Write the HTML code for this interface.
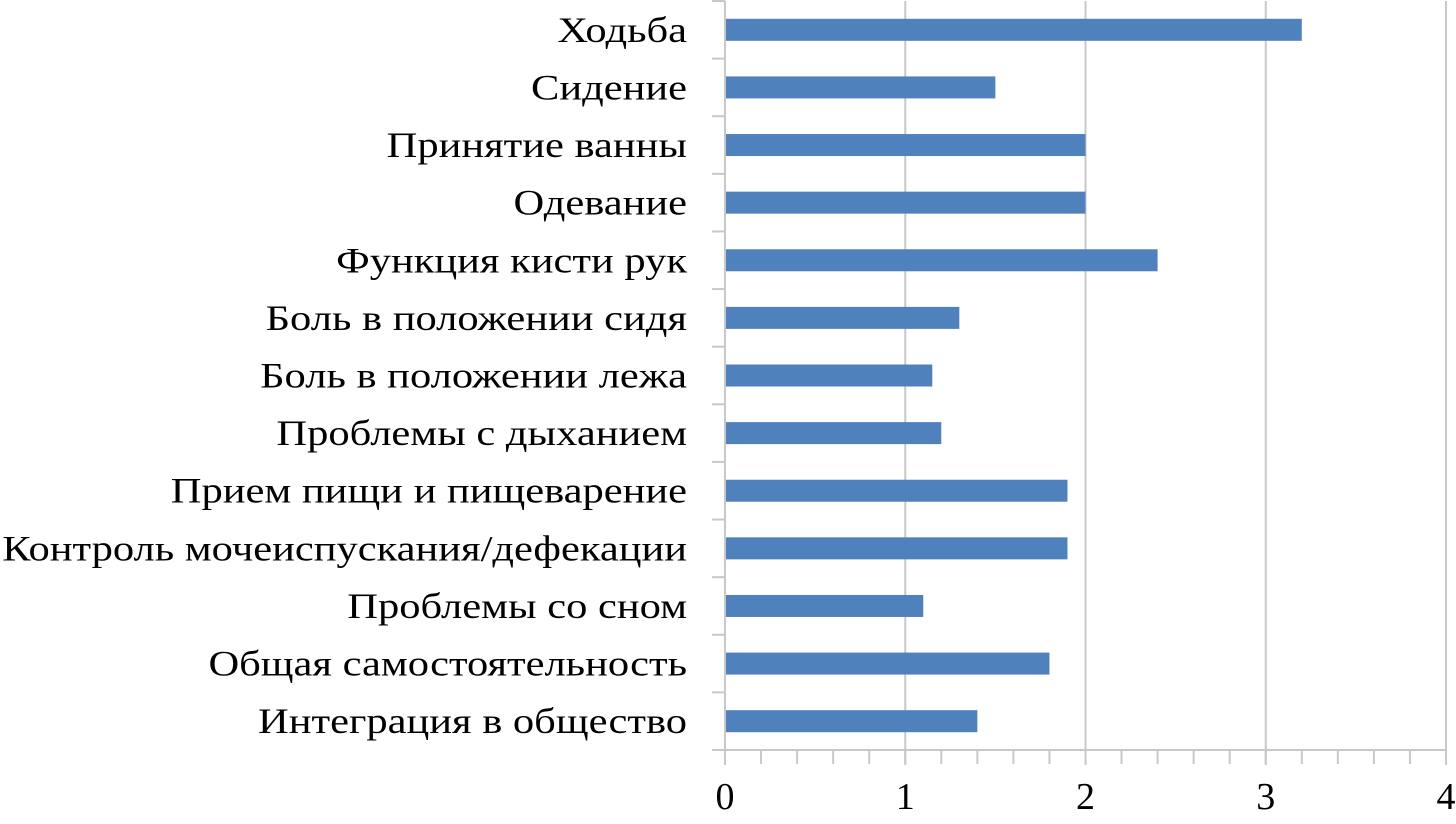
<!DOCTYPE html>
<html><head><meta charset="utf-8"><style>
html,body{margin:0;padding:0;background:#fff;width:1456px;height:824px;overflow:hidden}
svg text{font-family:"Liberation Serif",serif;fill:#000}
</style></head><body>
<svg id="chart" width="1456" height="824" xmlns="http://www.w3.org/2000/svg"></svg>
<script>
const categories=["Ходьба","Сидение","Принятие ванны","Одевание","Функция кисти рук","Боль в положении сидя","Боль в положении лежа","Проблемы с дыханием","Прием пищи и пищеварение","Контроль мочеиспускания/дефекации","Проблемы со сном","Общая самостоятельность","Интеграция в общество"];
const values=[3.2,1.5,2,2,2.4,1.3,1.15,1.2,1.9,1.9,1.1,1.8,1.4];
const xTicks=[0,1,2,3,4];
const svg=document.getElementById('chart');
const NS='http://www.w3.org/2000/svg';
const x0=725,x1=1446,yTop=1,yBot=750;
const xs=v=>x0+(v/4)*(x1-x0);
const band=(yBot-yTop)/categories.length;
function el(t,a){const e=document.createElementNS(NS,t);for(const k in a)e.setAttribute(k,a[k]);svg.appendChild(e);return e;}
xTicks.forEach(t=>{if(t===0)return;
const g=el('line',{x1:xs(t),x2:xs(t),y1:yTop,y2:765,stroke:'#c8c8c8','stroke-width':2});

});
for(let i=0;i<=20;i++){const v=i*0.2;
const m=el('line',{x1:xs(v),x2:xs(v),y1:yBot,y2:764,stroke:'#c8c8c8','stroke-width':2});

}
const ax=el('line',{x1:712,x2:x1+1,y1:yBot,y2:yBot,stroke:'#c8c8c8','stroke-width':2});


const ay=el('line',{x1:x0,x2:x0,y1:yTop,y2:765,stroke:'#c8c8c8','stroke-width':2});


for(let i=0;i<=categories.length;i++){
const t=el('line',{x1:712,x2:x0,y1:yTop+i*band,y2:yTop+i*band,stroke:'#c8c8c8','stroke-width':2});

}
const labels=[];
categories.forEach((c,i)=>{const cy=yTop+band*(i+0.5);
const b=el('rect',{x:x0+1,y:cy-11,width:xs(values[i])-x0-1,height:22,fill:'#4f81bd'});


const l=el('text',{x:0,y:0,'font-size':36,'text-anchor':'end'});l.textContent=c;


labels.push([l,cy]);});
let maxW=0;labels.forEach(([l])=>{maxW=Math.max(maxW,l.getComputedTextLength());});
const sx=maxW>0?685/maxW:1;
labels.forEach(([l,cy])=>{l.setAttribute('transform','translate(687,'+(cy+12)+') scale('+sx+',1)');});
xTicks.forEach(t=>{const l=el('text',{x:xs(t),y:809,'font-size':38,'text-anchor':'middle'});l.textContent=t;

});
</script>
</body></html>
